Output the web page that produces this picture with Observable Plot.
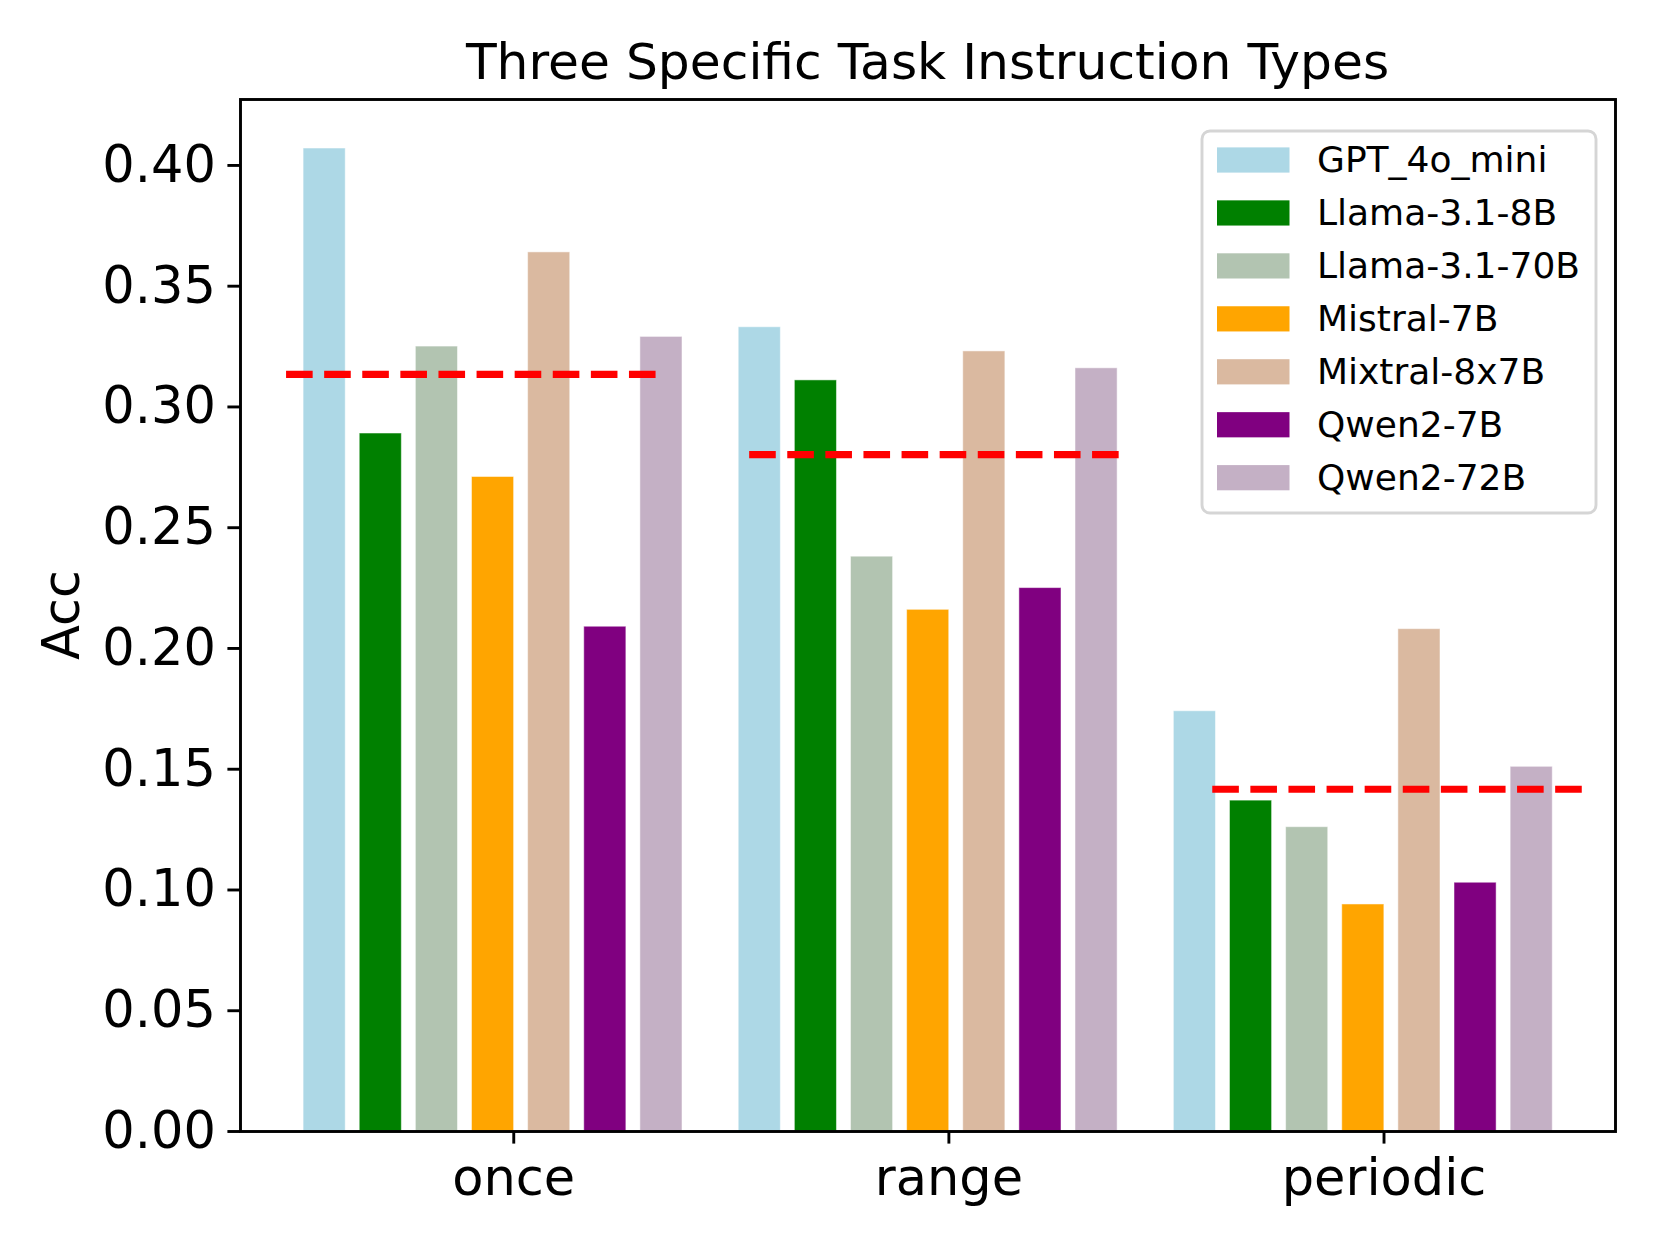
<!DOCTYPE html>
<html>
<head>
<meta charset="utf-8">
<script src="https://cdn.jsdelivr.net/npm/d3@7"></script>
<script src="https://cdn.jsdelivr.net/npm/@observablehq/plot@0.6"></script>
<style>
  html, body { margin: 0; padding: 0; background: #fff; }
  #chart svg { display: block; }
</style>
</head>
<body>
<div id="chart"></div>
<script>
// ---------- data ----------
const chartTitle = "Three Specific Task Instruction Types";
const yLabel = "Acc";
const categories = ["once", "range", "periodic"];
const models = ["GPT_4o_mini", "Llama-3.1-8B", "Llama-3.1-70B", "Mistral-7B", "Mixtral-8x7B", "Qwen2-7B", "Qwen2-72B"];
const modelColors = ["#add8e6", "#008000", "#b2c4b1", "#ffa500", "#dab9a0", "#800080", "#c4b0c5"];
const accOnce = [0.407, 0.289, 0.325, 0.271, 0.364, 0.209, 0.329];
const accRange = [0.333, 0.311, 0.238, 0.216, 0.323, 0.225, 0.316];
const accPeriodic = [0.174, 0.137, 0.126, 0.094, 0.208, 0.103, 0.151];
const avgAcc = [0.3135, 0.2803, 0.1417];
const yTicks = [0.00, 0.05, 0.10, 0.15, 0.20, 0.25, 0.30, 0.35, 0.40];

// ---------- layout ----------
const FONT = "'DejaVu Sans', sans-serif";
const W = 1660, H = 1245;
const mL = 240, mR = 45, mT = 99, mB = 114;
const xDomain = [-0.628, 2.532];
const yDomain = [0, 0.4273];
const barStart = -0.483, barStep = 0.1290, barWidth = 0.0968;
const lineStartFrac = 0.0335, lineGroupFrac = 0.3368, lineLenFrac = 0.2695;
const fracToX = f => xDomain[0] + f * (xDomain[1] - xDomain[0]);

const series = [accOnce, accRange, accPeriodic];
const rows = [];
categories.forEach((c, g) => series[g].forEach((v, i) => rows.push({category: c, g, i, model: models[i], acc: v})));
const avgRows = categories.map((c, g) => ({category: c, g, avg: avgAcc[g]}));

const plot = Plot.plot({
  width: W, height: H,
  marginLeft: mL, marginRight: mR, marginTop: mT, marginBottom: mB,
  style: {fontFamily: FONT, background: "white", color: "black"},
  x: {type: "linear", domain: xDomain},
  y: {domain: yDomain},
  color: {domain: models, range: modelColors},
  marks: [
    Plot.rect(rows, {
      x1: d => d.g + barStart + d.i * barStep,
      x2: d => d.g + barStart + d.i * barStep + barWidth,
      y1: 0, y2: "acc", fill: "model",
      stroke: "white", strokeOpacity: 0.5, strokeWidth: 1
    }),
    Plot.ruleY(avgRows, {
      x1: d => fracToX(lineStartFrac + d.g * lineGroupFrac),
      x2: d => fracToX(lineStartFrac + d.g * lineGroupFrac + lineLenFrac),
      y: "avg", stroke: "red", strokeWidth: 7.2, strokeDasharray: "26.6,11.5"
    }),
    Plot.frame({stroke: "black", strokeWidth: 2.9}),
    Plot.axisY({
      ticks: yTicks, tickFormat: d3.format(".2f"), tickSize: 12.6, tickPadding: 12,
      fontSize: 51, label: null, strokeWidth: 2.9
    }),
    Plot.axisX({
      ticks: [0, 1, 2], tickFormat: i => categories[i], tickSize: 12.6, tickPadding: 15,
      fontSize: 51, label: null, strokeWidth: 2.9
    })
  ]
});

document.getElementById("chart").appendChild(plot);

// ---------- title, y label, legend ----------
const svg = d3.select(plot);
svg.append("text")
  .attr("x", (mL + (W - mR)) / 2).attr("y", 79)
  .attr("text-anchor", "middle")
  .attr("font-family", FONT).attr("font-size", 50.3).attr("fill", "black")
  .text(chartTitle);

svg.append("text")
  .attr("transform", `translate(79,${(mT + (H - mB)) / 2}) rotate(-90)`)
  .attr("text-anchor", "middle")
  .attr("font-family", FONT).attr("font-size", 51).attr("fill", "black")
  .text(yLabel);

const color = plot.scale("color");
const lg = svg.append("g").attr("text-anchor", "start");
lg.append("rect")
  .attr("x", 1202).attr("y", 131).attr("width", 394).attr("height", 382)
  .attr("rx", 8).attr("ry", 8)
  .attr("fill", "white").attr("fill-opacity", 0.8)
  .attr("stroke", "#d5d5d5").attr("stroke-width", 2.9);
models.forEach((m, i) => {
  const cy = 160 + i * 52.95;
  lg.append("rect")
    .attr("x", 1217).attr("y", cy - 12.6).attr("width", 72.5).attr("height", 25.2)
    .attr("fill", color.apply(m));
  lg.append("text")
    .attr("x", 1317).attr("y", cy + 12)
    .attr("text-anchor", "start")
    .attr("font-family", FONT).attr("font-size", 36).attr("fill", "black")
    .text(m);
});
</script>
</body>
</html>
